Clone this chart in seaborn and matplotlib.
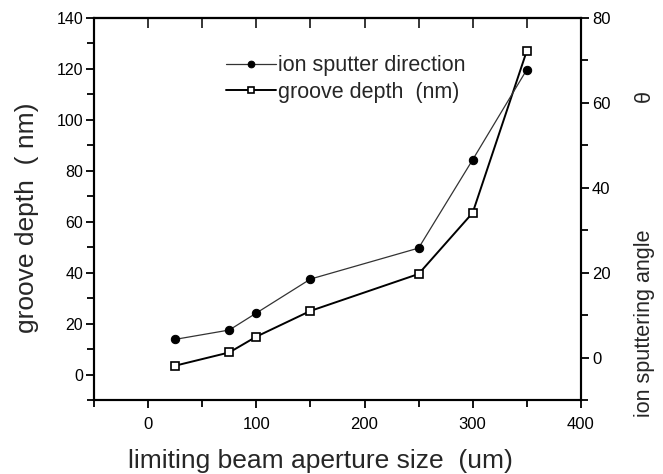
import matplotlib
matplotlib.use("Agg")
import matplotlib.pyplot as plt
import seaborn as sns
import pandas as pd
from matplotlib.ticker import MultipleLocator, NullFormatter

aperture = [25, 75, 100, 150, 250, 300, 350]
groove_depth = [3.5, 8.7, 14.9, 25.0, 39.5, 63.5, 127.0]
sputter_angle = [4.3, 6.5, 10.5, 18.5, 25.8, 46.6, 67.8]

df = pd.DataFrame({"aperture": aperture, "depth": groove_depth, "angle": sputter_angle})

sns.set_style("ticks")
plt.rcParams["font.family"] = ["Liberation Sans", "DejaVu Sans"]

fig = plt.figure(figsize=(6.63, 4.74), dpi=100)
ax = fig.add_axes([0.142, 0.156, 0.734, 0.806])
ax2 = ax.twinx()

sns.lineplot(data=df, x="aperture", y="angle", ax=ax2, color="#333333", lw=0.9,
             marker="o", markersize=6, markerfacecolor="black", markeredgecolor="black",
             label="ion sputter direction", legend=False)
sns.lineplot(data=df, x="aperture", y="depth", ax=ax, color="black", lw=1.4,
             marker="s", markersize=6, markerfacecolor="white", markeredgecolor="black",
             markeredgewidth=1.2, label="groove depth  (nm)", legend=False)

ax.set_xlim(-50, 400)
ax.set_ylim(-10, 140)
ax2.set_ylim(-10, 80)
ax.xaxis.set_major_locator(MultipleLocator(100))
ax.xaxis.set_minor_locator(MultipleLocator(50))
ax.yaxis.set_major_locator(MultipleLocator(20))
ax.yaxis.set_minor_locator(MultipleLocator(10))
ax2.yaxis.set_major_locator(MultipleLocator(20))
ax2.yaxis.set_minor_locator(MultipleLocator(10))

for a in (ax, ax2):
    for s in a.spines.values():
        s.set_visible(True)
        s.set_linewidth(1.5)
        s.set_color("black")

ax.tick_params(axis="both", which="both", direction="out", width=1.3, colors="black")
ax.tick_params(axis="x", labelsize=12, pad=6)
ax.tick_params(axis="y", labelsize=11.5, pad=2)
ax.tick_params(which="major", length=6)
ax.tick_params(which="minor", length=5)
ax2.tick_params(axis="y", which="both", direction="out", width=1.3, labelsize=12, colors="black", pad=2)
ax2.tick_params(which="major", length=6)
ax2.tick_params(which="minor", length=5)

top = ax.secondary_xaxis("top")
top.xaxis.set_major_locator(MultipleLocator(100))
top.xaxis.set_minor_locator(MultipleLocator(50))
top.xaxis.set_major_formatter(NullFormatter())
top.tick_params(axis="x", which="both", direction="in", length=7, width=1.3)
top.spines["top"].set_linewidth(1.5)

ax.set_xlabel("limiting beam aperture size  (um)", fontsize=19)
ax.xaxis.set_label_coords(0.465, -0.128)
ax.set_ylabel("groove depth  ( nm)", fontsize=19)
ax.yaxis.set_label_coords(-0.113, 0.476)
ax2.set_ylabel("ion sputtering angle", fontsize=15.5)
ax2.yaxis.set_label_coords(1.109, 0.2)
ax2.text(1.131, 0.796, "\u03b8", transform=ax2.transAxes, rotation=90, fontsize=15.5,
         ha="center", va="center")

h1, l1 = ax2.get_legend_handles_labels()
h2, l2 = ax.get_legend_handles_labels()
ax.legend(h1 + h2, l1 + l2, loc="upper left", bbox_to_anchor=(0.254, 0.925), frameon=False,
          fontsize=15.5, handlelength=2.3, handletextpad=0.1, labelspacing=0.25, borderaxespad=0,
          markerscale=0.8)

fig.savefig("out.png", dpi=100, facecolor="white")
